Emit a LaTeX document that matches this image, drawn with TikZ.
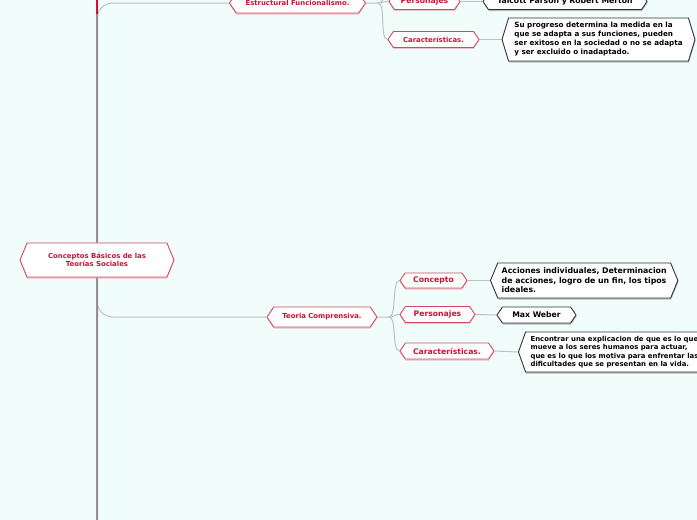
\documentclass[tikz,border=0pt]{standalone}
\usepackage{fontspec}
\setmainfont{DejaVu Sans}
\usetikzlibrary{shapes.symbols,shadows,backgrounds}
\definecolor{fondo}{RGB}{240,253,251}
\definecolor{rojo}{RGB}{204,17,51}
\definecolor{borde}{RGB}{214,72,96}
\definecolor{linea}{RGB}{186,194,194}
\definecolor{gristronco}{RGB}{150,142,146}
\tikzset{
  hexa/.style={signal,signal to=west and east,inner sep=0pt,font=\bfseries},
  raiz/.style={hexa,draw=borde,fill=white,text=rojo,align=center,line width=0.9pt,signal pointer angle=135,
               drop shadow={shadow xshift=0pt,shadow yshift=-1.5pt,fill=borde!70,opacity=.45}},
  rama/.style={raiz,signal pointer angle=112},
  hoja/.style={hexa,draw=black!80,fill=white,text=black,align=left,line width=0.9pt,signal pointer angle=112,
               drop shadow={shadow xshift=0.5pt,shadow yshift=-1.5pt,fill=black!60,opacity=.45}},
  enlace/.style={draw=linea,line width=1pt},
  tronco/.style={draw=gristronco,line width=2pt},
  chico/.style={font=\bfseries\fontsize{6.9}{8.3}\selectfont},
  medio/.style={font=\bfseries\fontsize{7.7}{9.4}\selectfont},
}

\begin{document}
\begin{tikzpicture}[x=1pt,y=-1pt]
  \useasboundingbox (0,0) rectangle (697,520);
  \clip (0,0) rectangle (697,520);
  \node[raiz,chico,minimum width=154,minimum height=34] (cb) at (97,260) {Conceptos Básicos de las\\Teorías Sociales};
  \node[rama,chico,minimum width=136,minimum height=20] (ef) at (297.5,3) {Estructural Funcionalismo.};
  \node[rama,chico,minimum width=110,minimum height=20] (tc) at (322,317) {Teoria Comprensiva.};
  \node[rama,medio,minimum width=71,minimum height=16] (pe1) at (424.5,1.5) {Personajes};
  \node[rama,chico,minimum width=91,minimum height=16] (ca1) at (433.5,39.5) {Características.};
  \node[hoja,medio,minimum width=164,minimum height=16] (tp) at (565,1.5) {Talcott Parson y Robert Merton};
  \node[hoja,signal pointer angle=146,minimum width=193,minimum height=43,
        font=\bfseries\fontsize{7.2}{9}\selectfont] (sp) at (598.5,39.5)
    {Su progreso determina la medida en la\\que se adapta a sus funciones, pueden\\ser exitoso en la sociedad o no se adapta\\y ser excluido o inadaptado.};
  \node[rama,medio,minimum width=67,minimum height=15] (co) at (433.5,280.5) {Concepto};
  \node[rama,medio,minimum width=75,minimum height=16] (pe2) at (437.5,314.5) {Personajes};
  \node[rama,medio,minimum width=94,minimum height=16] (ca2) at (447,351) {Características.};
  \node[hoja,signal pointer angle=135,inner xsep=4pt,minimum height=35,anchor=west,
        font=\bfseries\fontsize{7.8}{9.5}\selectfont] (ac) at (490,280.5)
    {Acciones individuales, Determinacion\\de acciones, logro de un fin, los tipos\\ideales.};
  \node[hoja,medio,minimum width=79,minimum height=16] (mw) at (536.5,315) {Max Weber};
  \node[hoja,signal pointer angle=141,inner xsep=5pt,minimum height=40,anchor=west,
        font=\bfseries\fontsize{6.9}{8.2}\selectfont] (en) at (518,352)
    {Encontrar una explicacion de que es lo que\\mueve a los seres humanos para actuar,\\que es lo que los motiva para enfrentar las\\dificultades que se presentan en la vida.};
  \coordinate (arriba) at (97,0);
  \coordinate (abajo) at (97,520);
  \coordinate (j1) at (378,3);
  \coordinate (j2) at (389,317);
  \coordinate (fuera) at (392,-30);
  \begin{scope}[on background layer]
    \fill[fondo] (0,0) rectangle (697,520);
    \draw[enlace,rounded corners=16pt] (cb.center) |- (ef.west);
    \draw[enlace,rounded corners=16pt] (cb.center) |- (tc.west);
    \draw[enlace] (ef.east) -- (j1) .. controls +(6,0) and +(-6,0) .. (pe1.west);
    \draw[enlace] (j1) .. controls +(8,0) and +(-8,0) .. (ca1.west);
    \draw[enlace] (j1) .. controls +(8,0) and +(0,10) .. (fuera);
    \draw[enlace] (tc.east) -- (j2) .. controls +(8,0) and +(-8,0) .. (co.west);
    \draw[enlace] (j2) .. controls +(8,0) and +(-8,0) .. (pe2.west);
    \draw[enlace] (j2) .. controls +(8,0) and +(-8,0) .. (ca2.west);
    \draw[enlace] (pe1.east) -- (tp.west);
    \draw[enlace] (ca1.east) -- (sp.west);
    \draw[enlace] (co.east) -- (ac.west);
    \draw[enlace] (pe2.east) -- (mw.west);
    \draw[enlace] (ca2.east) -- (en.west);
    \draw[tronco] (arriba) -- (cb) -- (abajo);
    \draw[draw=rojo,line width=2pt] (arriba) -- ++(0,14);
  \end{scope}
\end{tikzpicture}
\end{document}
